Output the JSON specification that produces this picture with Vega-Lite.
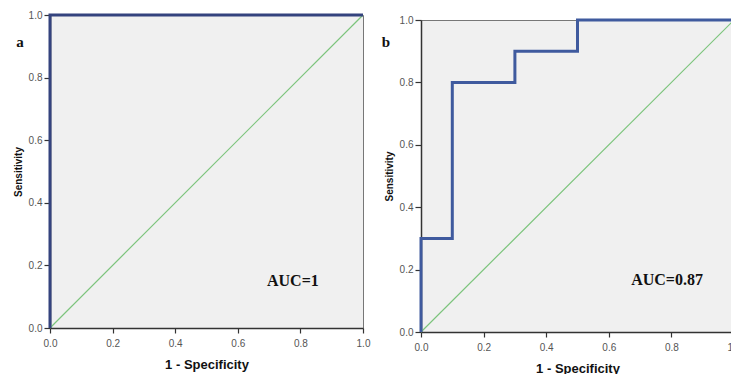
{
  "$schema": "https://vega.github.io/schema/vega-lite/v6.json",
  "autosize": {"type": "pad"},
  "padding": {"left": 12, "top": 8, "right": 0, "bottom": 0},
  "background": "white",
  "config": {
    "view": {"fill": "#f0f0f0", "stroke": "#777777", "strokeWidth": 1},
    "axis": {
      "labelFont": "Liberation Sans", "labelFontSize": 10, "labelColor": "#555555",
      "titleFont": "Liberation Sans", "titleFontWeight": "bold", "titleColor": "#111111",
      "tickColor": "#333333", "domainColor": "#333333", "domainWidth": 1.5, "tickWidth": 1.2,
      "grid": false, "labelFlush": false
    },
    "axisX": {"tickSize": 5, "labelPadding": 5, "titleFontSize": 13, "titlePadding": 10},
    "axisY": {"tickSize": 6, "labelPadding": 2, "titleFontSize": 10, "titlePadding": 5}
  },
  "datasets": {
    "diag": [{"fpr": 0, "tpr": 0}, {"fpr": 1, "tpr": 1}],
    "rocA": [
      {"step": 1, "fpr": 0, "tpr": 0},
      {"step": 2, "fpr": 0, "tpr": 1},
      {"step": 3, "fpr": 1, "tpr": 1}
    ],
    "rocB": [
      {"step": 1, "fpr": 0, "tpr": 0},
      {"step": 2, "fpr": 0, "tpr": 0.3},
      {"step": 3, "fpr": 0.1, "tpr": 0.3},
      {"step": 4, "fpr": 0.1, "tpr": 0.8},
      {"step": 5, "fpr": 0.3, "tpr": 0.8},
      {"step": 6, "fpr": 0.3, "tpr": 0.9},
      {"step": 7, "fpr": 0.5, "tpr": 0.9},
      {"step": 8, "fpr": 0.5, "tpr": 1},
      {"step": 9, "fpr": 1, "tpr": 1}
    ]
  },
  "bounds": "flush",
  "spacing": 58,
  "hconcat": [
    {
      "width": 313,
      "height": 313,
      "layer": [
        {
          "data": {"name": "diag"},
          "mark": {"type": "line", "color": "#7cc47c", "strokeWidth": 1.2},
          "encoding": {
            "x": {"field": "fpr", "type": "quantitative", "scale": {"domain": [0, 1], "nice": false}, "axis": {"title": "1 - Specificity", "values": [0, 0.2, 0.4, 0.6, 0.8, 1], "format": ".1f"}},
            "y": {"field": "tpr", "type": "quantitative", "scale": {"domain": [0, 1], "nice": false}, "axis": {"title": "Sensitivity", "values": [0, 0.2, 0.4, 0.6, 0.8, 1], "format": ".1f"}}
          }
        },
        {
          "data": {"name": "rocA"},
          "mark": {"type": "line", "color": "#34437e", "strokeWidth": 3, "clip": false},
          "encoding": {
            "x": {"field": "fpr", "type": "quantitative"},
            "y": {"field": "tpr", "type": "quantitative"},
            "order": {"field": "step"}
          }
        },
        {
          "data": {"values": [{"label": "AUC=1"}]},
          "mark": {"type": "text", "font": "Liberation Serif", "fontWeight": "bold", "fontSize": 16, "color": "#111111"},
          "encoding": {"x": {"datum": 0.776}, "y": {"datum": 0.15}, "text": {"field": "label"}}
        },
        {
          "data": {"values": [{"label": "a"}]},
          "mark": {"type": "text", "font": "Liberation Serif", "fontWeight": "bold", "fontSize": 15, "color": "#111111", "clip": false},
          "encoding": {"x": {"datum": -0.096}, "y": {"datum": 0.914}, "text": {"field": "label"}}
        }
      ]
    },
    {
      "bounds": "flush",
      "spacing": 4,
      "vconcat": [
        {
          "width": 313,
          "height": 1,
          "view": {"fill": null, "stroke": null},
          "data": {"values": []},
          "mark": "point"
        },
        {
          "width": 313,
          "height": 312,
          "layer": [
            {
              "data": {"name": "diag"},
              "mark": {"type": "line", "color": "#7cc47c", "strokeWidth": 1.2},
              "encoding": {
                "x": {"field": "fpr", "type": "quantitative", "scale": {"domain": [0, 1], "nice": false}, "axis": {"title": "1 - Specificity", "values": [0, 0.2, 0.4, 0.6, 0.8, 1], "format": ".1f"}},
                "y": {"field": "tpr", "type": "quantitative", "scale": {"domain": [0, 1], "nice": false}, "axis": {"title": "Sensitivity", "values": [0, 0.2, 0.4, 0.6, 0.8, 1], "format": ".1f"}}
              }
            },
            {
              "data": {"name": "rocB"},
              "mark": {"type": "line", "color": "#3f5a9e", "strokeWidth": 3, "clip": false},
              "encoding": {
                "x": {"field": "fpr", "type": "quantitative"},
                "y": {"field": "tpr", "type": "quantitative"},
                "order": {"field": "step"}
              }
            },
            {
              "data": {"values": [{"label": "AUC=0.87"}]},
              "mark": {"type": "text", "font": "Liberation Serif", "fontWeight": "bold", "fontSize": 16, "color": "#111111"},
              "encoding": {"x": {"datum": 0.786}, "y": {"datum": 0.167}, "text": {"field": "label"}}
            },
            {
              "data": {"values": [{"label": "b"}]},
              "mark": {"type": "text", "font": "Liberation Serif", "fontWeight": "bold", "fontSize": 15, "color": "#111111", "clip": false},
              "encoding": {"x": {"datum": -0.112}, "y": {"datum": 0.929}, "text": {"field": "label"}}
            }
          ]
        }
      ]
    }
  ]
}
